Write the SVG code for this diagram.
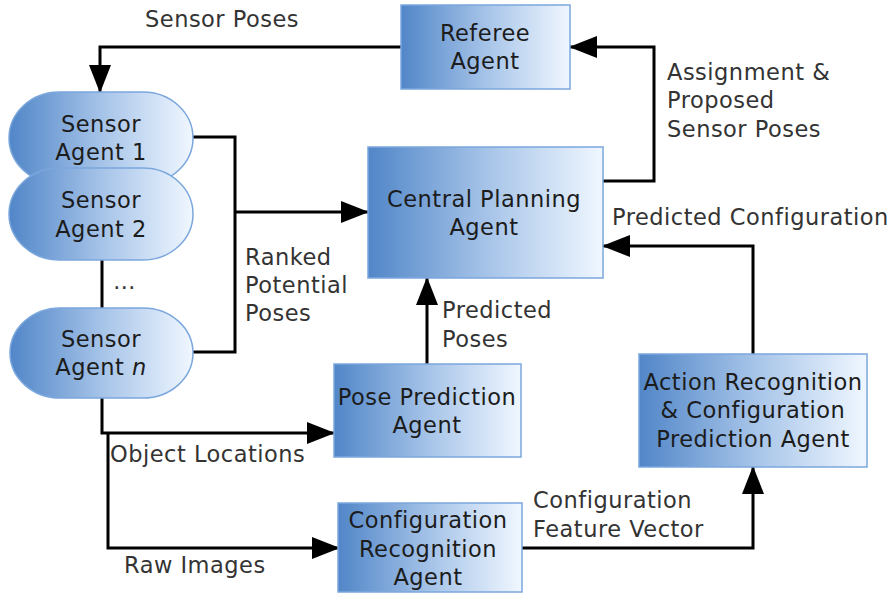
<svg xmlns="http://www.w3.org/2000/svg" width="890" height="594" viewBox="0 0 890 594">
<defs>
<linearGradient id="g" x1="0" y1="0" x2="1" y2="0">
<stop offset="0" stop-color="#5186c8"/>
<stop offset="0.5" stop-color="#a5c3e8"/>
<stop offset="1" stop-color="#f0f7ff"/>
</linearGradient>
<marker id="ah" markerUnits="userSpaceOnUse" markerWidth="28" markerHeight="22" refX="27" refY="11" orient="auto">
<path d="M0,0 L28,11 L0,22 z" fill="#000"/>
</marker>
<style>
.box{fill:url(#g);stroke:#7ba7dd;stroke-width:1.5}
.nt{font-family:"DejaVu Sans",Verdana,sans-serif;font-size:22.5px;letter-spacing:0.5px;fill:#1c1c1c;text-anchor:middle}
.lb{font-family:"DejaVu Sans",Verdana,sans-serif;font-size:22.5px;letter-spacing:0.5px;fill:#333}
.c{fill:none;stroke:#000;stroke-width:3}
</style>
</defs>
<g id="connectors">
<path class="c" d="M401,47 H100 V92" marker-end="url(#ah)"/>
<path class="c" d="M193,137 H235 V352 H193"/>
<path class="c" d="M235,212 H368" marker-end="url(#ah)"/>
<path class="c" d="M102,260 V308"/>
<path class="c" d="M427,364 V278" marker-end="url(#ah)"/>
<path class="c" d="M102,398 V433 H334" marker-end="url(#ah)"/>
<path class="c" d="M108,433 V548 H339" marker-end="url(#ah)"/>
<path class="c" d="M522,548 H753 V467" marker-end="url(#ah)"/>
<path class="c" d="M753,354 V246 H603" marker-end="url(#ah)"/>
<path class="c" d="M603,181 H654 V47 H570" marker-end="url(#ah)"/>
<text class="lb" x="145" y="27">Sensor Poses</text>
<text class="lb" x="667" y="80">Assignment &amp;</text>
<text class="lb" x="667" y="108">Proposed</text>
<text class="lb" x="667" y="137">Sensor Poses</text>
<text class="lb" x="612" y="225">Predicted Configuration</text>
<text class="lb" x="245" y="265">Ranked</text>
<text class="lb" x="245" y="293">Potential</text>
<text class="lb" x="245" y="321">Poses</text>
<text class="lb" x="442" y="318">Predicted</text>
<text class="lb" x="442" y="347">Poses</text>
<text class="lb" x="113" y="289">…</text>
<text class="lb" x="110" y="462">Object Locations</text>
<text class="lb" x="124" y="573">Raw Images</text>
<text class="lb" x="533" y="508">Configuration</text>
<text class="lb" x="533" y="537">Feature Vector</text>
</g>
<g id="referee">
<rect class="box" x="401" y="5" width="169" height="84"/>
<text class="nt" x="485" y="41">Referee</text>
<text class="nt" x="485" y="69">Agent</text>
</g>
<g id="sensor1">
<rect class="box" x="9" y="92" width="184" height="92" rx="50" ry="46"/>
<text class="nt" x="101" y="132">Sensor</text>
<text class="nt" x="101" y="160">Agent 1</text>
</g>
<g id="sensor2">
<rect class="box" x="9" y="168" width="184" height="92" rx="50" ry="46"/>
<text class="nt" x="101" y="208">Sensor</text>
<text class="nt" x="101" y="237">Agent 2</text>
</g>
<g id="sensorn">
<rect class="box" x="10" y="308" width="183" height="90" rx="50" ry="45"/>
<text class="nt" x="101" y="347">Sensor</text>
<text class="nt" x="101" y="375">Agent <tspan font-style="italic">n</tspan></text>
</g>
<g id="central">
<rect class="box" x="368" y="147" width="235" height="131"/>
<text class="nt" x="484" y="207">Central Planning</text>
<text class="nt" x="484" y="235">Agent</text>
</g>
<g id="pose">
<rect class="box" x="334" y="364" width="187" height="93"/>
<text class="nt" x="427" y="405">Pose Prediction</text>
<text class="nt" x="427" y="433">Agent</text>
</g>
<g id="config">
<rect class="box" x="338" y="503" width="184" height="89"/>
<text class="nt" x="428" y="528">Configuration</text>
<text class="nt" x="428" y="557">Recognition</text>
<text class="nt" x="428" y="585">Agent</text>
</g>
<g id="action">
<rect class="box" x="639" y="354" width="228" height="113"/>
<text class="nt" x="753" y="390">Action Recognition</text>
<text class="nt" x="753" y="418">&amp; Configuration</text>
<text class="nt" x="753" y="447">Prediction Agent</text>
</g>
</svg>
